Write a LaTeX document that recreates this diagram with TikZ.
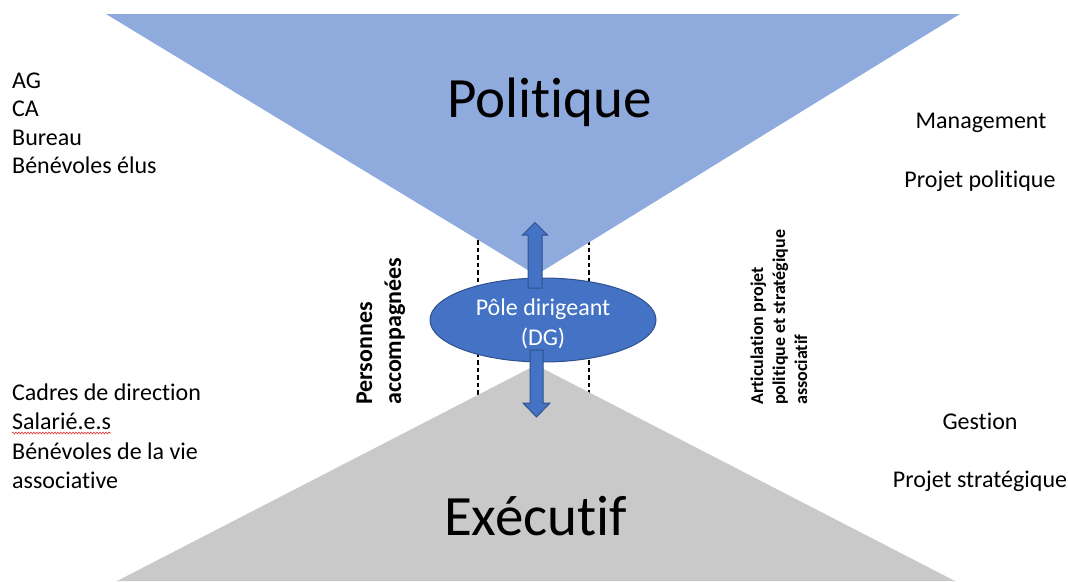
\documentclass[tikz,border=0pt]{standalone}
\usepackage{fontspec}
\setmainfont{Carlito}[RawFeature={-liga}]
\usetikzlibrary{shapes.geometric,decorations.pathmorphing}
\definecolor{topblue}{HTML}{8FAADC}
\definecolor{botgray}{HTML}{C9C9C9}
\definecolor{accblue}{HTML}{4472C4}
\definecolor{accedge}{HTML}{2F528F}
\definecolor{spellred}{HTML}{E03030}
\tikzset{
  txt/.style={inner sep=0pt, font=\fontsize{24}{29}\selectfont, anchor=base west},
  rtxt/.style={inner sep=0pt, font=\fontsize{24}{29}\selectfont, anchor=base},
  big/.style={inner sep=0pt, font=\fontsize{57}{68}\selectfont, anchor=base},
  vbold/.style={inner sep=0pt, font=\fontsize{24}{29}\selectfont\bfseries, anchor=base west, rotate=90},
  vsmall/.style={inner sep=0pt, font=\fontsize{18}{22}\selectfont\bfseries, anchor=base west, rotate=90},
  guide/.style={draw=black, line width=1.1pt, dash pattern=on 4.5pt off 3pt},
  blockarrow/.style={fill=accblue, draw=accedge, line width=1pt},
}
\begin{document}
\begin{tikzpicture}[x=1pt,y=-1pt]
\useasboundingbox (0,0) rectangle (1068,581);
% dashed guides (behind the triangles)
\draw[guide] (478,225) -- (478,405);
\draw[guide] (589,225) -- (589,405);
% triangles
\fill[topblue] (106,14) -- (960,14) -- (536,275) -- cycle;
\fill[botgray] (536,365) -- (955,581) -- (117,581) -- cycle;
% central ellipse
\node[ellipse, fill=accblue, draw=accedge, line width=1pt, minimum width=226pt, minimum height=84pt, inner sep=0pt] (pole) at (543,320) {};
\node[inner sep=0pt, text=white, align=center, font=\fontsize{24}{30}\selectfont] (poletxt) at ([yshift=-4pt]pole.center) {Pôle dirigeant\\(DG)};
% block arrows
\draw[blockarrow] (528,288) -- (528,235) -- (522.5,235) -- (535,222.5) -- (547.5,235) -- (542,235) -- (542,288) -- cycle;
\draw[blockarrow] (530,350) -- (530,403) -- (523,403) -- (536.5,417) -- (550,403) -- (543,403) -- (543,350) -- cycle;
% big titles
\node[big] (politique) at (549.5,117) {Politique};
\node[big] (executif) at (535.5,535) {Exécutif};
% left texts
\node[txt] (ag) at (12,88) {AG};
\node[txt] (ca) at (12,116.5) {CA};
\node[txt] (bureau) at (12,145) {Bureau};
\node[txt] (benelus) at (12,173.5) {Bénévoles élus};
\node[txt] (cadres) at (12,400) {Cadres de direction};
\node[txt] (sal) at (12,429.5) {Salarié.e.s};
\node[txt] (benvie) at (12,459) {Bénévoles de la vie};
\node[txt] (assoc) at (12,488) {associative};
\draw[spellred, line width=0.6pt, decorate, decoration={snake, amplitude=0.9pt, segment length=3pt}]
  ([yshift=-3.5pt]sal.base west) -- ([yshift=-3.5pt]sal.base east);
% right texts
\node[rtxt] (mgmt) at (981,128) {Management};
\node[rtxt] (projpol) at (980,187) {Projet politique};
\node[rtxt] (gestion) at (980,429) {Gestion};
\node[rtxt] (projstrat) at (980,487) {Projet stratégique};
% rotated texts
\node[vbold] (pers) at (372,405) {Personnes};
\node[vbold] (accomp) at (401,405) {accompagnées};
\node[vsmall] (art1) at (763,405) {Articulation projet};
\node[vsmall] (art2) at (785,405) {politique et stratégique};
\node[vsmall] (art3) at (807,405) {associatif};
\end{tikzpicture}
\end{document}
